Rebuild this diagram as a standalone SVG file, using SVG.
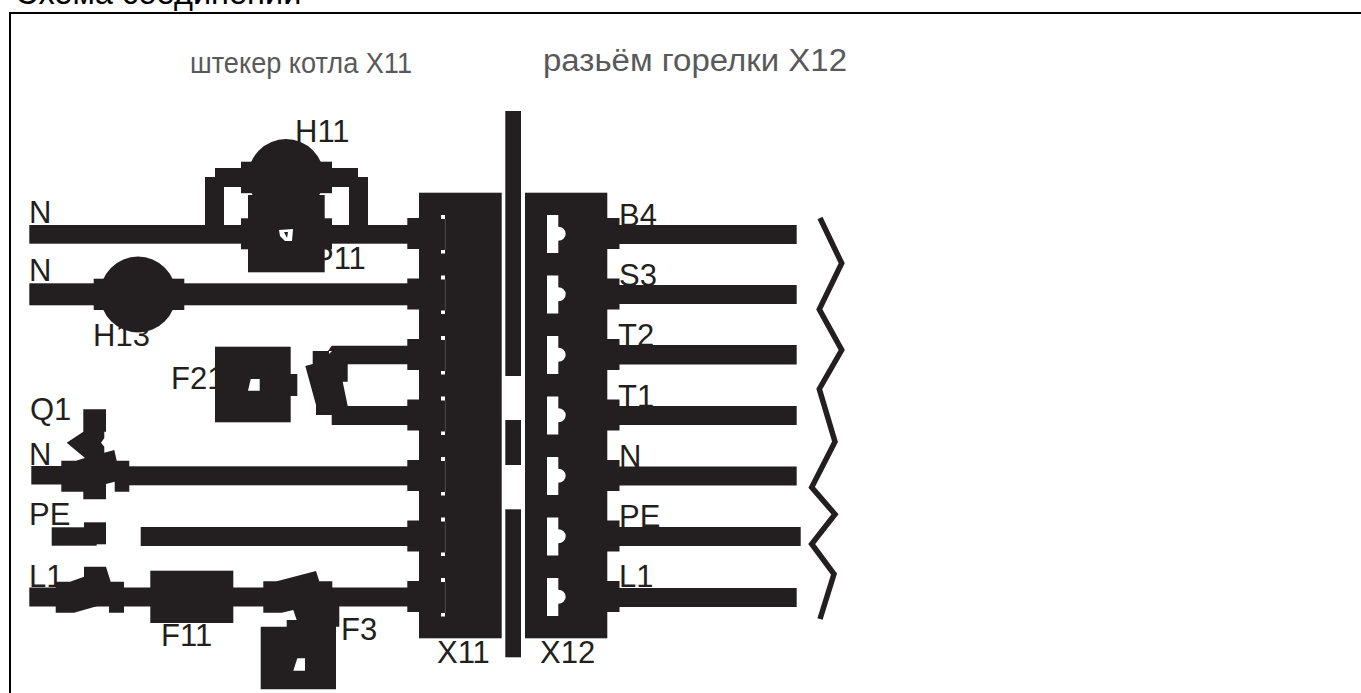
<svg xmlns="http://www.w3.org/2000/svg" xmlns:xlink="http://www.w3.org/1999/xlink" width="1361" height="693" viewBox="0 0 1361 693">
<style>
text{font-family:"Liberation Sans",Arial,sans-serif;font-size:31px;fill:#231f20}
.cap{fill:#58595b}
.k{fill:#231f20}
.w{fill:#fff}
.hair{stroke:#777;stroke-width:.5;fill:none}
</style>
<defs>
<g id="pinL"><rect class="k" x="407.3" y="-16" width="12" height="31"/><rect class="w" x="441" y="-19" width="4" height="4"/><rect class="w" x="441" y="16" width="4" height="3.5"/><path class="hair" d="M445.3 -15V16"/></g>
<g id="pinR"><rect class="k" x="607" y="-16" width="12.5" height="31"/><path class="w" d="M547 -19H558.3V-7.3A7.4 7 0 0 1 558.3 6.7V19H547Z"/></g>
</defs>
<rect width="1361" height="693" fill="#fff"/>
<text x="15" y="4" style="font-size:32.5px;fill:#000">Схема соединений</text>
<path d="M1361 13H10V693" fill="none" stroke="#000" stroke-width="2"/>
<g id="labels">
<text class="cap" x="190" y="73" textLength="222" lengthAdjust="spacingAndGlyphs" style="font-size:30px">штекер котла X11</text>
<text class="cap" x="543" y="71" textLength="304" lengthAdjust="spacingAndGlyphs" style="font-size:31px">разьём горелки X12</text>
<text x="295" y="142">H11</text>
<text x="29" y="223">N</text>
<text x="29" y="281">N</text>
<text x="313" y="269">P11</text>
<text x="93" y="346">H13</text>
<text x="171" y="389">F21</text>
<text x="30" y="420">Q1</text>
<text x="29" y="465">N</text>
<text x="29" y="525">PE</text>
<text x="29" y="587">L1</text>
<text x="161" y="646">F11</text>
<text x="341" y="640">F3</text>
<text x="437" y="663">X11</text>
<text x="540" y="663">X12</text>
<text x="619" y="226">B4</text>
<text x="619" y="286">S3</text>
<text x="618" y="346">T2</text>
<text x="618" y="407">T1</text>
<text x="619" y="467">N</text>
<text x="619" y="527">PE</text>
<text x="619" y="587">L1</text>
</g>
<g id="connectors" class="k">
<rect x="29.3" y="225" width="379" height="18.7"/>
<rect x="29.3" y="283.3" width="379" height="22"/>
<rect x="31.3" y="466" width="40" height="18.5"/>
<rect x="115" y="466.3" width="293" height="19"/>
<rect x="140.7" y="527" width="267.5" height="19"/>
<rect x="29.3" y="587.5" width="379" height="19"/>
<path d="M205 230V177H215V168H241V187H224V230Z"/>
<path d="M332 168H358V177H368V230H349V187H332Z"/>
<rect x="619" y="225" width="177.7" height="19"/>
<rect x="619" y="285" width="177.7" height="19"/>
<rect x="619" y="345" width="177.7" height="19.5"/>
<rect x="619" y="406" width="177.7" height="19"/>
<rect x="619" y="466.5" width="177.7" height="19"/>
<rect x="619" y="527" width="181.7" height="19"/>
<rect x="619" y="588" width="177.7" height="19"/>
</g>
<g id="zigzag"><path d="M820 218L841.7 263.3L819.3 309.3L841.7 350L819.3 389L835 441.7L811.7 487.3L835 514.3L811.7 544L834 574L820 619" fill="none" stroke="#231f20" stroke-width="5.5"/></g>
<g id="H11" class="k"><circle cx="286" cy="177" r="38"/><rect x="241" y="161.7" width="91" height="31.5"/></g>
<g id="P11"><rect class="k" x="248" y="195" width="76.7" height="77.3"/><rect class="k" x="241" y="218.3" width="91" height="31"/><path class="w" d="M279 230L293 229L292 241L285 241L280 236Z"/><path class="k" d="M284 232L288 232L287 238Z"/></g>
<g id="H13" class="k"><circle cx="138" cy="294.5" r="38"/><rect x="93.7" y="278.7" width="90.6" height="31.3"/></g>
<g id="F21"><rect class="k" x="215" y="346.7" width="75.7" height="75.6"/><rect class="k" x="290" y="374" width="7.3" height="22"/><path class="w" d="M250.7 379H259.7V390.7H248Z"/></g>
<g id="T"><path class="k" d="M312.7 351H328L331.7 345.7H408V364.3H347.7V381.7H342.7L347.7 406H408V425H331.7V415H316V405L305.3 366L312.7 364Z"/><path class="w" d="M329 354L332 351L329 351Z"/></g>
<g id="Q1"><path class="k" d="M61.3 460.7H76L85 458L66.7 442.7L83.3 431.7V409.3H106V431.7H104.3V438L101 442.7L104.3 446.7V452.7L114.3 450L116.7 460.7H129.3V491.7H114.7V481.7L106 484V499.3H83.3V491.7H61.3Z"/></g>
<g id="PE" class="k"><rect x="51.7" y="527.3" width="45" height="18.4"/><rect x="84" y="522.3" width="22" height="22"/></g>
<g id="L1"><path class="k" d="M55.7 581.7H70L84 576.7V566.7H106L110.7 581.7H124V612.7H109V602.7L74 612.7H55.7Z"/></g>
<g id="F11"><rect class="k" x="150.3" y="570.7" width="83" height="52.3"/></g>
<g id="F3"><path class="k" d="M263.3 581.3H276.7L316 571L319.3 581.3H332.3V605H339.3V626.7H336V689.3H260.7V626.7H286.7V620H296.7L293.3 610L281.7 612.7H263.3Z"/><path class="w" d="M297.3 658.3H305V670.7H293.3Z"/></g>
<g id="X11"><rect class="k" x="419" y="192.7" width="82.7" height="445.6"/>
<use xlink:href="#pinL" href="#pinL" y="234"/><use xlink:href="#pinL" href="#pinL" y="294.5"/><use xlink:href="#pinL" href="#pinL" y="355"/><use xlink:href="#pinL" href="#pinL" y="415.5"/><use xlink:href="#pinL" href="#pinL" y="476"/><use xlink:href="#pinL" href="#pinL" y="536.5"/><use xlink:href="#pinL" href="#pinL" y="597"/></g>
<g id="divider" class="k"><rect x="505.3" y="111" width="15.7" height="265"/><rect x="505.3" y="420" width="15.7" height="45"/><rect x="505.3" y="509.3" width="15.7" height="148"/></g>
<g id="X12"><rect class="k" x="525" y="192.7" width="82.3" height="445.6"/>
<use xlink:href="#pinR" href="#pinR" y="234"/><use xlink:href="#pinR" href="#pinR" y="294.5"/><use xlink:href="#pinR" href="#pinR" y="355"/><use xlink:href="#pinR" href="#pinR" y="415.5"/><use xlink:href="#pinR" href="#pinR" y="476"/><use xlink:href="#pinR" href="#pinR" y="536.5"/><use xlink:href="#pinR" href="#pinR" y="597"/></g>
</svg>
